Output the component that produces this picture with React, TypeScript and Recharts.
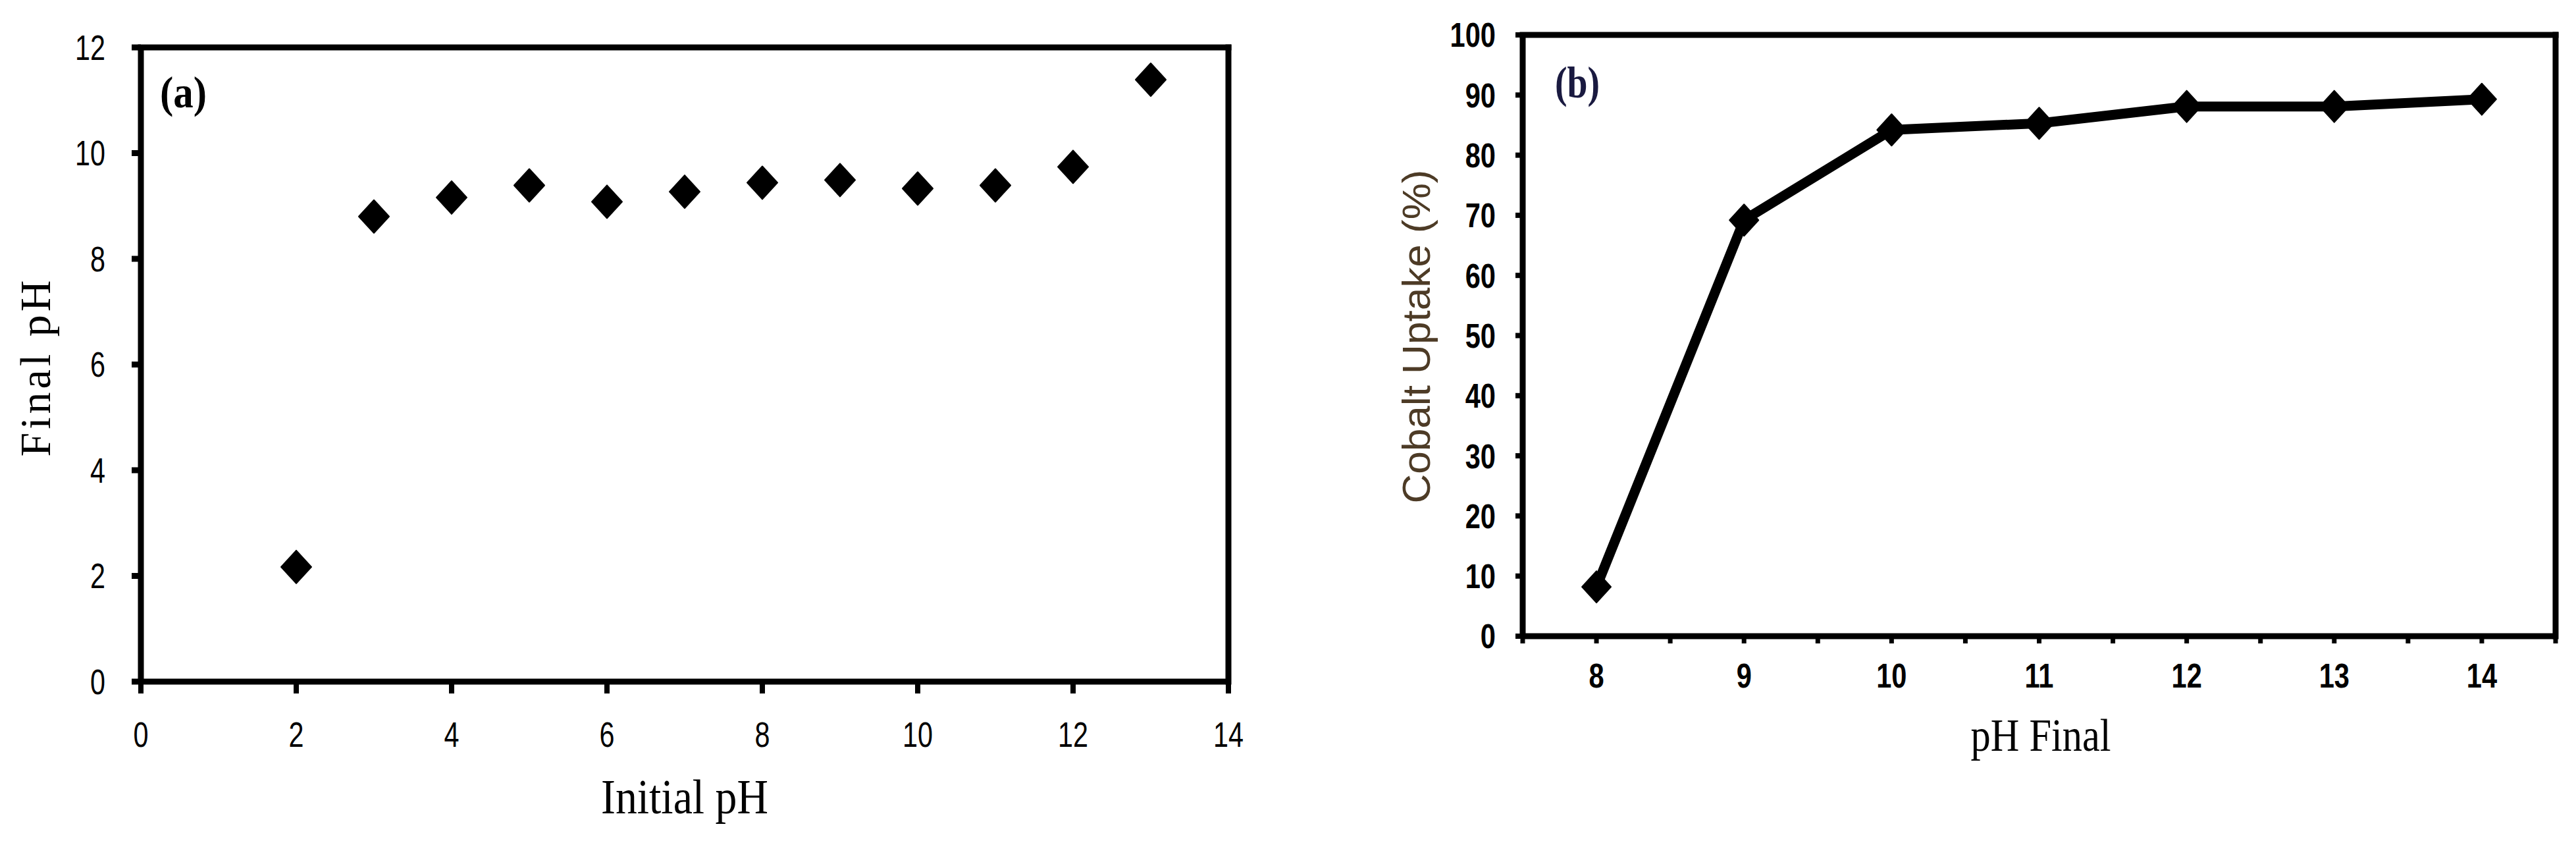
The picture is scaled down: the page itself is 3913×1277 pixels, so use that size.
import { ScatterChart, Scatter, LineChart, Line, XAxis, YAxis, ReferenceLine, Customized } from 'recharts';

// panel (a): final pH against initial pH
const initialPh = [2, 3, 4, 5, 6, 7, 8, 9, 10, 11, 12, 13];
const finalPh = [2.17, 8.8, 9.16, 9.39, 9.08, 9.27, 9.44, 9.49, 9.33, 9.39, 9.74, 11.39];
const xTicksA = [0, 2, 4, 6, 8, 10, 12, 14];
const yTicksA = [0, 2, 4, 6, 8, 10, 12];

// panel (b): cobalt uptake against final pH
const phFinal = [8, 9, 10, 11, 12, 13, 14];
const cobaltUptake = [8.2, 69.2, 84.2, 85.3, 88.1, 88.1, 89.3];
const xTicksB = [7.5, 8, 8.5, 9, 9.5, 10, 10.5, 11, 11.5, 12, 12.5, 13, 13.5, 14, 14.5];
const yTicksB = [0, 10, 20, 30, 40, 50, 60, 70, 80, 90, 100];

const dataA = initialPh.map((x, i) => ({ x, y: finalPh[i] }));
const dataB = phFinal.map((x, i) => ({ x, y: cobaltUptake[i] }));

const sans = "'Liberation Sans', Arial, sans-serif";
const serif = "'Liberation Serif', 'Times New Roman', serif";

// tick text squeezed sideways, like the narrow font of the original
const NarrowTick = (props: any) => {
  const { x, y, payload, textAnchor, squeeze = 0.78, dy = '0.71em', bold = false, hideHalf = false } = props;
  const v = payload?.value;
  if (hideHalf && !Number.isInteger(v)) return null;
  return (
    <text
      x={0}
      y={0}
      dy={dy}
      transform={`translate(${x},${y}) scale(${squeeze},1)`}
      textAnchor={textAnchor}
      fill="#000"
      fontSize={bold ? 52 : 53}
      fontWeight={bold ? 'bold' : 'normal'}
      fontFamily={sans}
    >
      {String(v)}
    </text>
  );
};

const Diamond = (props: any) => {
  const { cx, cy, w = 23, h = 25 } = props;
  if (cx == null || cy == null) return null;
  return (
    <path
      d={`M${cx},${cy - h}L${cx + w},${cy}L${cx},${cy + h}L${cx - w},${cy}Z`}
      fill="#000"
      stroke="#000"
      strokeWidth={2}
      strokeLinejoin="round"
    />
  );
};

const NotesA = () => (
  <g>
    <text x={243} y={163} fontFamily={serif} fontWeight="bold" fontSize={68} textLength={71} lengthAdjust="spacingAndGlyphs">
      (a)
    </text>
    <text x={76} y={557} transform="rotate(-90, 76, 557)" textAnchor="middle" fontFamily={serif} fontSize={66} letterSpacing={5}>
      Final pH
    </text>
    <text x={1040} y={1235} textAnchor="middle" fontFamily={serif} fontSize={74} textLength={254} lengthAdjust="spacingAndGlyphs">
      Initial pH
    </text>
  </g>
);

const NotesB = () => (
  <g>
    <text x={412} y={148} fontFamily={serif} fontWeight="bold" fontSize={68} fill="#1a1a40" textLength={68} lengthAdjust="spacingAndGlyphs">
      (b)
    </text>
    <text x={222} y={511} transform="rotate(-90, 222, 511)" textAnchor="middle" fontFamily={sans} fontSize={60} fill="#4d3b26" textLength={507} lengthAdjust="spacingAndGlyphs">
      Cobalt Uptake (%)
    </text>
    <text x={1150} y={1140} textAnchor="middle" fontFamily={serif} fontSize={70} textLength={213} lengthAdjust="spacingAndGlyphs">
      pH Final
    </text>
  </g>
);

export default function App() {
  return (
    <div style={{ position: 'absolute', left: 0, top: 0, width: 3913, height: 1277, background: '#fff' }}>
      <div style={{ position: 'absolute', left: 0, top: 0 }}>
        <ScatterChart width={1950} height={1277} margin={{ top: 72, right: 84, bottom: 0, left: 0 }}>
          <XAxis
            type="number"
            dataKey="x"
            domain={[0, 14]}
            ticks={xTicksA}
            interval={0}
            height={242}
            axisLine={{ stroke: '#000', strokeWidth: 9 }}
            tickLine={{ stroke: '#000', strokeWidth: 8 }}
            tickSize={18}
            tickMargin={43}
            tick={<NarrowTick squeeze={0.78} dy="0.71em" />}
          />
          <YAxis
            type="number"
            dataKey="y"
            domain={[0, 12]}
            ticks={yTicksA}
            interval={0}
            width={214}
            axisLine={{ stroke: '#000', strokeWidth: 9 }}
            tickLine={{ stroke: '#000', strokeWidth: 9 }}
            tickSize={14}
            tickMargin={40}
            tick={<NarrowTick squeeze={0.78} dy="0.355em" />}
          />
          <ReferenceLine y={12} stroke="#000" strokeWidth={9} strokeLinecap="square" />
          <ReferenceLine x={14} stroke="#000" strokeWidth={9} strokeLinecap="square" />
          <Scatter data={dataA} isAnimationActive={false} shape={(p: any) => <Diamond {...p} />} />
          <Customized component={NotesA} />
        </ScatterChart>
      </div>
      <div style={{ position: 'absolute', left: 1950, top: 0 }}>
        <LineChart width={1963} height={1277} data={dataB} margin={{ top: 53, right: 31, bottom: 0, left: 0 }}>
          <XAxis
            type="number"
            dataKey="x"
            domain={[7.5, 14.5]}
            ticks={xTicksB}
            interval={0}
            height={311}
            axisLine={{ stroke: '#000', strokeWidth: 9 }}
            tickLine={{ stroke: '#000', strokeWidth: 7 }}
            tickSize={11}
            tickMargin={30}
            tick={<NarrowTick squeeze={0.8} dy="0.71em" bold hideHalf />}
          />
          <YAxis
            type="number"
            domain={[0, 100]}
            ticks={yTicksB}
            interval={0}
            width={363}
            axisLine={{ stroke: '#000', strokeWidth: 9 }}
            tickLine={{ stroke: '#000', strokeWidth: 8 }}
            tickSize={11}
            tickMargin={30}
            tick={<NarrowTick squeeze={0.8} dy="0.355em" bold />}
          />
          <ReferenceLine y={100} stroke="#000" strokeWidth={9} strokeLinecap="square" />
          <ReferenceLine x={14.5} stroke="#000" strokeWidth={9} strokeLinecap="square" />
          <Line
            dataKey="y"
            stroke="#000"
            strokeWidth={15}
            strokeLinejoin="round"
            isAnimationActive={false}
            dot={(p: any) => <Diamond key={p.index} cx={p.cx} cy={p.cy} w={22} h={24} />}
          />
          <Customized component={NotesB} />
        </LineChart>
      </div>
    </div>
  );
}
